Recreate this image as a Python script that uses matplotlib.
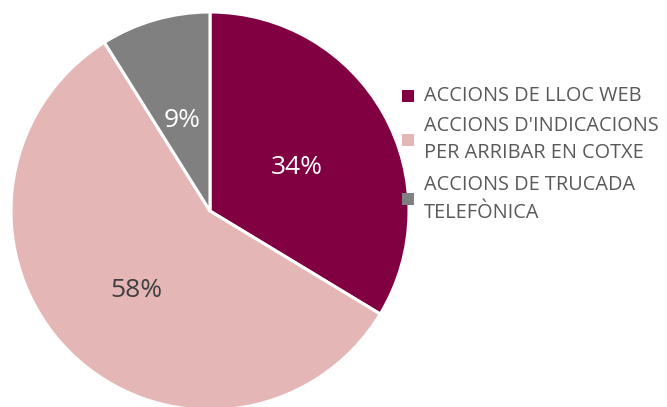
import matplotlib
matplotlib.use('Agg')
import matplotlib.pyplot as plt
import matplotlib.patches as patches

# Chart data
labels = ['ACCIONS DE LLOC WEB',
          "ACCIONS D'INDICACIONS\nPER ARRIBAR EN COTXE",
          'ACCIONS DE TRUCADA\nTELEFÒNICA']
values = [34, 58, 9]
colors = ['#800042', '#E5B6B6', '#808080']
pct_colors = ['white', '#404040', 'white']

plt.rcParams['font.family'] = ['Open Sans', 'DejaVu Sans']

W, H = 667, 407
fig = plt.figure(figsize=(W / 100, H / 100), dpi=100)

# Pie axes: centre (210, 211) px, radius 199 px
cx, cy, r = 210, 211, 199
ax = fig.add_axes([(cx - r) / W, (H - cy - r) / H, 2 * r / W, 2 * r / H])

total = sum(values)
wedges, texts, autotexts = ax.pie(
    values, colors=colors, startangle=90, counterclock=False,
    autopct=lambda p: '%d%%' % round(p * total / 100),
    pctdistance=0.5, radius=1,
    wedgeprops=dict(edgecolor='white', linewidth=2.2),
    textprops=dict(fontsize=19))
for t, c in zip(autotexts, pct_colors):
    t.set_color(c)
    px, py = t.get_position()
    t.set_position((px, py - 0.025))
# the 58% label sits a bit further out
x58, y58 = autotexts[1].get_position()
autotexts[1].set_position((x58 * 1.05, y58 * 1.05))
ax.set_xlim(-1, 1)
ax.set_ylim(-1, 1)
ax.set_aspect('equal')
ax.axis('off')

# Legend drawn by hand to copy the wrapped layout
line_y = [[96], [126, 153], [185, 213]]
for lab, col, ys in zip(labels, colors, line_y):
    my = sum(ys) / len(ys)
    fig.patches.append(patches.Rectangle(((402) / W, (H - my - 6) / H), 12 / W, 12 / H,
                                         transform=fig.transFigure, facecolor=col,
                                         edgecolor='none'))
    for line, y in zip(lab.split('\n'), ys):
        fig.text(424 / W, (H - y) / H, line, fontsize=14.3, color='#595959',
                 va='center', ha='left')

fig.savefig('out.png', dpi=100)
